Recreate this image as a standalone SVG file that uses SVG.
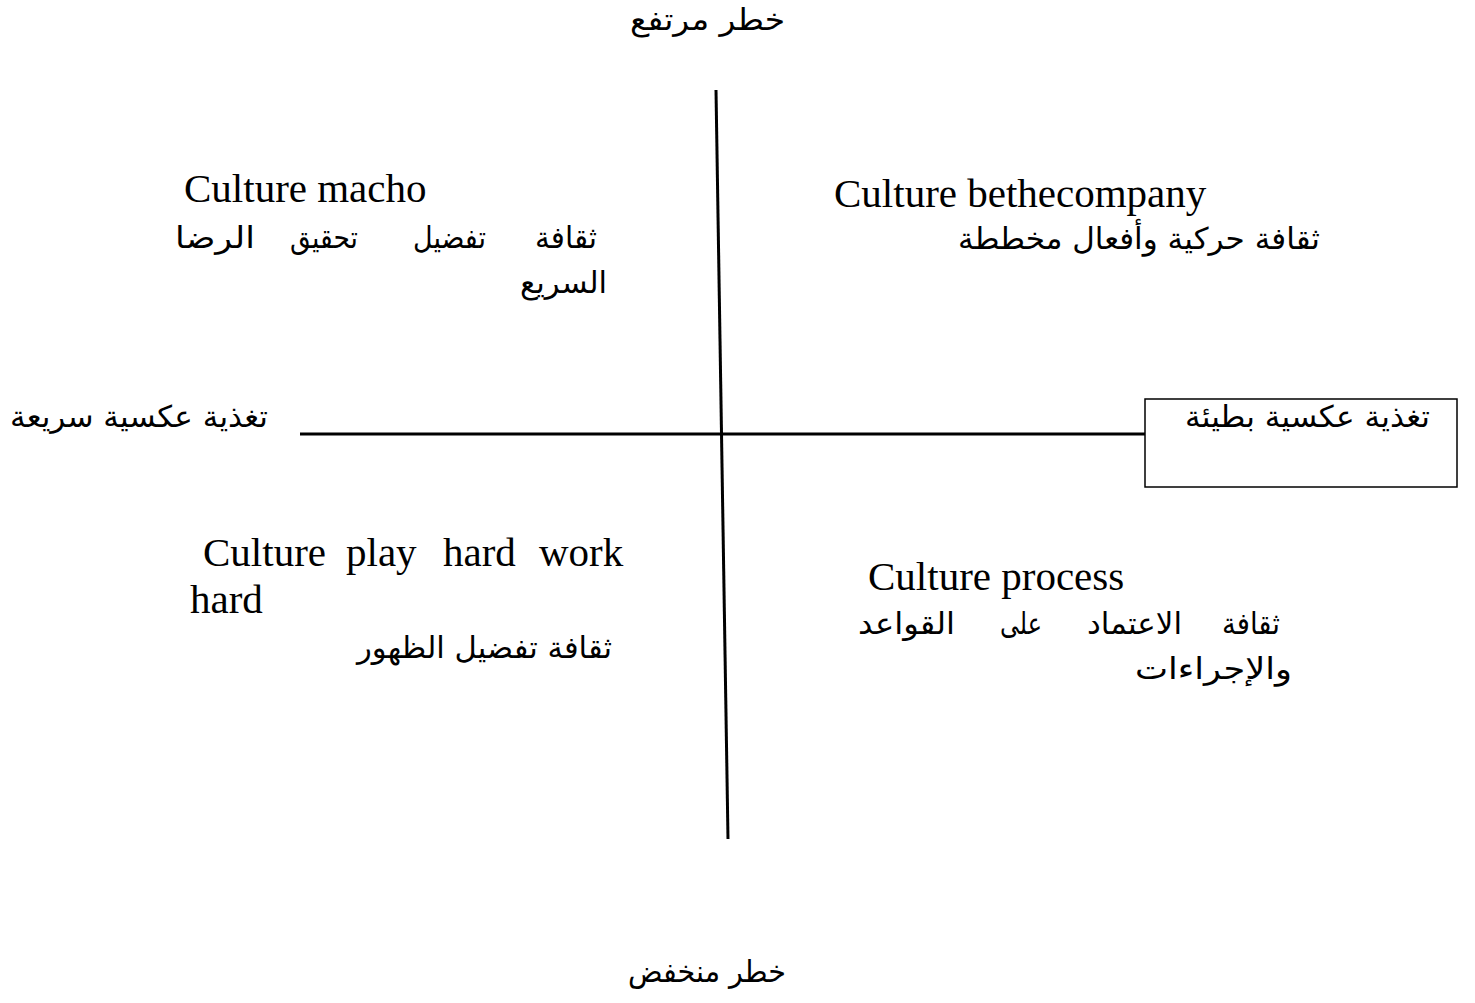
<svg xmlns="http://www.w3.org/2000/svg" width="1475" height="1003" viewBox="0 0 1475 1003">
<style>
.en{font-family:"Liberation Serif","Times New Roman",serif;font-size:41px;fill:#000}
.ar{font-family:"DejaVu Sans","Noto Sans",sans-serif;font-size:30px;fill:#000;text-anchor:end}
.axis{stroke:#000;stroke-width:3;fill:none}
.box{stroke:#000;stroke-width:1.5;fill:#fff}
</style>
<rect width="1475" height="1003" fill="#fff"/>
<g id="connectors">
<line class="axis" x1="716" y1="90" x2="728" y2="839"/>
<line class="axis" x1="300" y1="434" x2="1146" y2="434"/>
</g>
<g id="high-risk"><text class="ar" x="785" y="30" textLength="155" lengthAdjust="spacingAndGlyphs">خطر مرتفع</text></g>
<g id="low-risk"><text class="ar" x="786" y="982" textLength="158" lengthAdjust="spacingAndGlyphs">خطر منخفض</text></g>
<g id="fast-feedback"><text class="ar" x="268" y="427" textLength="258" lengthAdjust="spacingAndGlyphs">تغذية عكسية سريعة</text></g>
<g id="slow-feedback">
<rect class="box" x="1145" y="399" width="312" height="88"/>
<text class="ar" x="1430" y="427" textLength="245" lengthAdjust="spacingAndGlyphs">تغذية عكسية بطيئة</text>
</g>
<g id="macho">
<text class="en" x="184" y="202">Culture macho</text>
<text class="ar" x="597" y="248" textLength="62" lengthAdjust="spacingAndGlyphs">ثقافة</text>
<text class="ar" x="486" y="248" textLength="73" lengthAdjust="spacingAndGlyphs">تفضيل</text>
<text class="ar" x="358" y="248" textLength="68" lengthAdjust="spacingAndGlyphs">تحقيق</text>
<text class="ar" x="255" y="248" textLength="80" lengthAdjust="spacingAndGlyphs">الرضا</text>
<text class="ar" x="607" y="293" textLength="87" lengthAdjust="spacingAndGlyphs">السريع</text>
</g>
<g id="bethecompany">
<text class="en" x="834" y="207">Culture bethecompany</text>
<text class="ar" x="1320" y="249" textLength="362" lengthAdjust="spacingAndGlyphs">ثقافة حركية وأفعال مخططة</text>
</g>
<g id="workhard">
<text class="en" x="203" y="566">Culture</text>
<text class="en" x="346" y="566">play</text>
<text class="en" x="443" y="566">hard</text>
<text class="en" x="539" y="566">work</text>
<text class="en" x="190" y="613">hard</text>
<text class="ar" x="612" y="658" textLength="255" lengthAdjust="spacingAndGlyphs">ثقافة تفضيل الظهور</text>
</g>
<g id="process">
<text class="en" x="868" y="590">Culture process</text>
<text class="ar" x="1280" y="634" textLength="58" lengthAdjust="spacingAndGlyphs">ثقافة</text>
<text class="ar" x="1182" y="634" textLength="95" lengthAdjust="spacingAndGlyphs">الاعتماد</text>
<text class="ar" x="1042" y="634" textLength="42" lengthAdjust="spacingAndGlyphs">على</text>
<text class="ar" x="955" y="634" textLength="97" lengthAdjust="spacingAndGlyphs">القواعد</text>
<text class="ar" x="1292" y="679" textLength="157" lengthAdjust="spacingAndGlyphs">والإجراءات</text>
</g>
</svg>
